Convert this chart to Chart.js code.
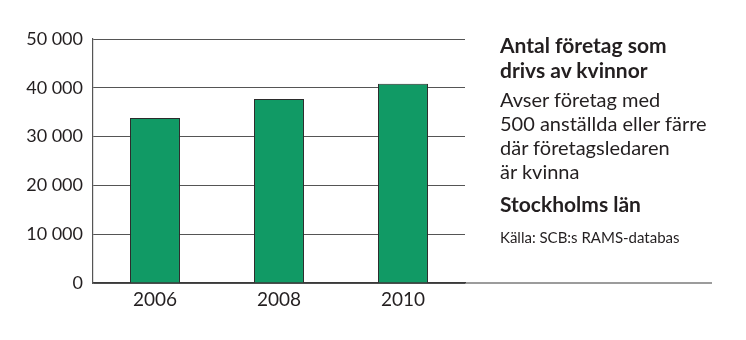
<!DOCTYPE html>
<html>
<head>
<meta charset="utf-8">
<script src="https://cdn.jsdelivr.net/npm/chart.js@4.4.1/dist/chart.umd.min.js"></script>
<style>
  body { margin: 0; background: #fff; }
  #wrap { position: relative; width: 746px; height: 340px; }
  #note {
    position: absolute; left: 500px; top: 32px; width: 246px;
    font-family: Lato, sans-serif; color: #231f20;
  }
  #note .t { font-weight: bold; font-size: 21px; line-height: 25px; }
  #note .b { font-size: 20px; line-height: 24px; margin-top: 5px; }
  #note .s { font-weight: bold; font-size: 21px; line-height: 24px; margin-top: 9px; }
  #note .k { font-size: 15px; line-height: 18px; margin-top: 12px; }
</style>
</head>
<body>
<div id="wrap">
  <canvas id="myChart" width="746" height="340"></canvas>
  <div id="note">
    <div class="t">Antal företag som<br>drivs av kvinnor</div>
    <div class="b">Avser företag med<br>500 anställda eller färre<br>där företagsledaren<br>är kvinna</div>
    <div class="s">Stockholms län</div>
    <div class="k">Källa: SCB:s RAMS-databas</div>
  </div>
</div>
<script>
const years = ['2006', '2008', '2010'];
const companies = [33800, 37700, 40850];
const yTicks = [0, 10000, 20000, 30000, 40000, 50000];
const yTickLabels = ['0', '10 000', '20 000', '30 000', '40 000', '50 000'];

// baseline runs on past the plot, under the text block
const baseLine = {
    id: 'baseLine',
    afterDraw(chart) {
        const c = chart.ctx;
        const y = chart.scales.y.getPixelForValue(0);
        c.save();
        c.strokeStyle = '#3a3a3a';
        c.lineWidth = 1.2;
        c.beginPath();
        c.moveTo(chart.chartArea.right, y);
        c.lineTo(712, y);
        c.stroke();
        c.restore();
    }
};

const ctx = document.getElementById('myChart').getContext('2d');
const myChart = new Chart(ctx, {
    type: 'bar',
    data: {
        labels: years,
        datasets: [{
            label: 'Antal företag',
            data: companies,
            backgroundColor: '#119a65',
            borderColor: '#2b2b2b',
            borderWidth: 1,
            barPercentage: 0.403,
            categoryPercentage: 1
        }]
    },
    options: {
        responsive: false,
        animation: false,
        layout: { padding: { top: 39, right: 281, bottom: 0, left: 0 } },
        plugins: { legend: { display: false }, tooltip: { enabled: false } },
        scales: {
            x: {
                grid: { display: false, drawTicks: false },
                border: { display: true, color: '#3a3a3a', width: 1.2 },
                ticks: { color: '#231f20', font: { family: 'Lato', size: 19 }, padding: 5 },
                afterFit(scale) { scale.height = 57; }
            },
            y: {
                min: 0,
                max: 50000,
                afterBuildTicks(scale) { scale.ticks = yTicks.map(v => ({ value: v })); },
                grid: { color: '#555555', lineWidth: 1, drawTicks: false },
                border: { display: true, color: '#555555', width: 1.2 },
                ticks: {
                    color: '#231f20',
                    font: { family: 'Lato', size: 18 },
                    padding: 10,
                    callback: (v) => yTickLabels[yTicks.indexOf(v)]
                },
                afterFit(scale) { scale.width = 93; }
            }
        }
    },
    plugins: [baseLine]
});
</script>
</body>
</html>
